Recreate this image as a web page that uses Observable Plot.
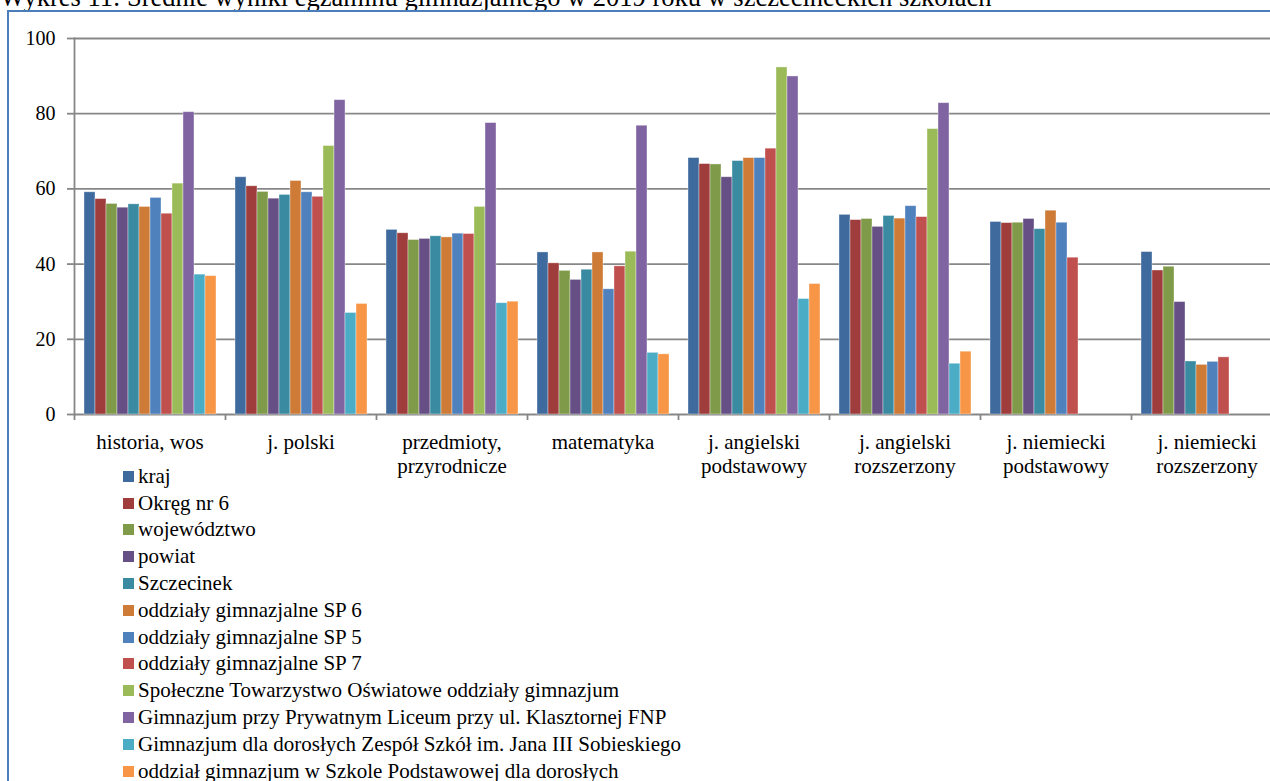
<!DOCTYPE html>
<html>
<head>
<meta charset="utf-8">
<script src="https://cdn.jsdelivr.net/npm/d3@7"></script>
<script src="https://cdn.jsdelivr.net/npm/@observablehq/plot@0.6"></script>
<style>
  html, body { margin: 0; padding: 0; background: #fff; overflow: hidden; width: 1270px; height: 781px; }
  body { position: relative; font-family: "Liberation Serif", "Times New Roman", serif; color: #000; }
  #title { position: absolute; left: 0; top: -16px; font-family: "Liberation Serif", serif; font-size: 26.5px; line-height: 26.5px; white-space: nowrap; }
  #frame { position: absolute; left: 7px; top: 10px; width: 1400px; height: 1000px; border-left: 2px solid #4A7EBB; border-top: 2px solid #4A7EBB; }
  #chart { position: absolute; left: 0; top: 0; width: 1282px; height: 500px; }
  #chart svg { max-width: none !important; width: 1282px; height: 500px; }
  #legend { position: absolute; left: 123px; top: 463px; font-family: "Liberation Serif", serif; font-size: 21px; }
  .row { display: flex; align-items: center; height: 26.8px; white-space: nowrap; }
  .sw { width: 11px; height: 11px; margin-right: 4px; flex: none; }
</style>
</head>
<body>
<div id="title">Wykres 11: Średnie wyniki egzaminu gimnazjalnego w 2019 roku w szczecineckich szkołach</div>
<div id="frame"></div>
<div id="chart"></div>
<div id="legend"></div>
<script>
const categories = ["historia, wos", "j. polski", "przedmioty,\nprzyrodnicze", "matematyka",
  "j. angielski\npodstawowy", "j. angielski\nrozszerzony", "j. niemiecki\npodstawowy", "j. niemiecki\nrozszerzony"];

const seriesNames = ["kraj", "Okręg nr 6", "województwo", "powiat", "Szczecinek",
  "oddziały gimnazjalne SP 6", "oddziały gimnazjalne SP 5", "oddziały gimnazjalne SP 7",
  "Społeczne Towarzystwo Oświatowe oddziały gimnazjum",
  "Gimnazjum przy Prywatnym Liceum przy ul. Klasztornej FNP",
  "Gimnazjum dla dorosłych Zespół Szkół im. Jana III Sobieskiego",
  "oddział gimnazjum w Szkole Podstawowej dla dorosłych"];

const seriesColors = ["#3E6A9D", "#9E3D3B", "#7F9A48", "#664F84", "#3A8BA2", "#CD7B37",
  "#4F81BD", "#C0504D", "#9BBB59", "#8064A2", "#4BACC6", "#F79646"];

const kraj        = [59.1, 63.1, 49.1, 43.1, 68.2, 53.1, 51.2, 43.2];
const okreg       = [57.3, 60.7, 48.2, 40.2, 66.6, 51.7, 50.9, 38.3];
const wojewodztwo = [56.0, 59.2, 46.4, 38.2, 66.5, 52.0, 51.0, 39.3];
const powiat      = [55.0, 57.4, 46.7, 35.8, 63.1, 49.9, 52.0, 29.9];
const szczecinek  = [55.9, 58.4, 47.4, 38.5, 67.4, 52.8, 49.3, 14.1];
const sp6         = [55.2, 62.1, 47.1, 43.1, 68.2, 52.1, 54.2, 13.2];
const sp5         = [57.6, 59.1, 48.1, 33.3, 68.2, 55.4, 51.0, 14.0];
const sp7         = [53.4, 57.9, 48.0, 39.4, 70.7, 52.5, 41.7, 15.2];
const sto         = [61.4, 71.4, 55.2, 43.3, 92.3, 75.9, null, null];
const fnp         = [80.4, 83.6, 77.5, 76.8, 89.9, 82.8, null, null];
const janIII      = [37.2, 27.0, 29.6, 16.4, 30.7, 13.5, null, null];
const spDorosli   = [36.8, 29.4, 30.0, 16.0, 34.7, 16.7, null, null];

const yTicks = [0, 20, 40, 60, 80, 100];

const seriesValues = [kraj, okreg, wojewodztwo, powiat, szczecinek, sp6, sp5, sp7, sto, fnp, janIII, spDorosli];

const data = seriesNames.flatMap((s, i) =>
  seriesValues[i].map((v, j) => ({category: categories[j], series: s, value: v}))
).filter(d => d.value != null);

const W = 1282, mL = 74, mR = 0;
const step = (W - mL - mR) / categories.length;
const gridColor = "#878787";
const serif = "'Liberation Serif', 'Times New Roman', serif";

const chart = Plot.plot({
  width: W,
  height: 500,
  marginLeft: mL,
  marginRight: mR,
  marginTop: 38,
  marginBottom: 86,
  style: {fontFamily: serif, fontSize: "21px", color: "#000", background: "transparent", overflow: "visible", maxWidth: "none"},
  fx: {domain: categories, padding: 0, label: null},
  x: {domain: seriesNames, paddingInner: 0, paddingOuter: 0.76, axis: null},
  y: {domain: [0, 100], label: null},
  color: {domain: seriesNames, range: seriesColors},
  marks: [
    Plot.gridY(yTicks, {stroke: gridColor, strokeOpacity: 1, strokeWidth: 1.8}),
    Plot.frame({anchor: "left", stroke: gridColor, strokeWidth: 1.8, facetAnchor: "left"}),
    Plot.barY(data, {fx: "category", x: "series", y: "value", fill: "series", stroke: "#ffffff", strokeOpacity: 0.45, strokeWidth: 0.8}),
    Plot.axisY({ticks: yTicks, tickSize: 7, tickPadding: 12, stroke: gridColor, strokeWidth: 1.8, fill: "#000", fontFamily: serif, fontSize: 20, label: null}),
    Plot.axisFx({anchor: "bottom", tickSize: 0, tickPadding: 18, lineHeight: 1.12, label: null, fill: "#000", fontFamily: serif, fontSize: 21}),
    Plot.axisFx({anchor: "bottom", tickSize: 6, tickFormat: () => "", dx: -step / 2, stroke: gridColor, strokeWidth: 1.8, label: null})
  ]
});
document.getElementById("chart").appendChild(chart);

const legend = document.getElementById("legend");
seriesNames.forEach((s, i) => {
  const row = document.createElement("div");
  row.className = "row";
  const sw = document.createElement("span");
  sw.className = "sw";
  sw.style.background = seriesColors[i];
  const t = document.createElement("span");
  t.textContent = s;
  row.appendChild(sw);
  row.appendChild(t);
  legend.appendChild(row);
});
</script>
</body>
</html>
